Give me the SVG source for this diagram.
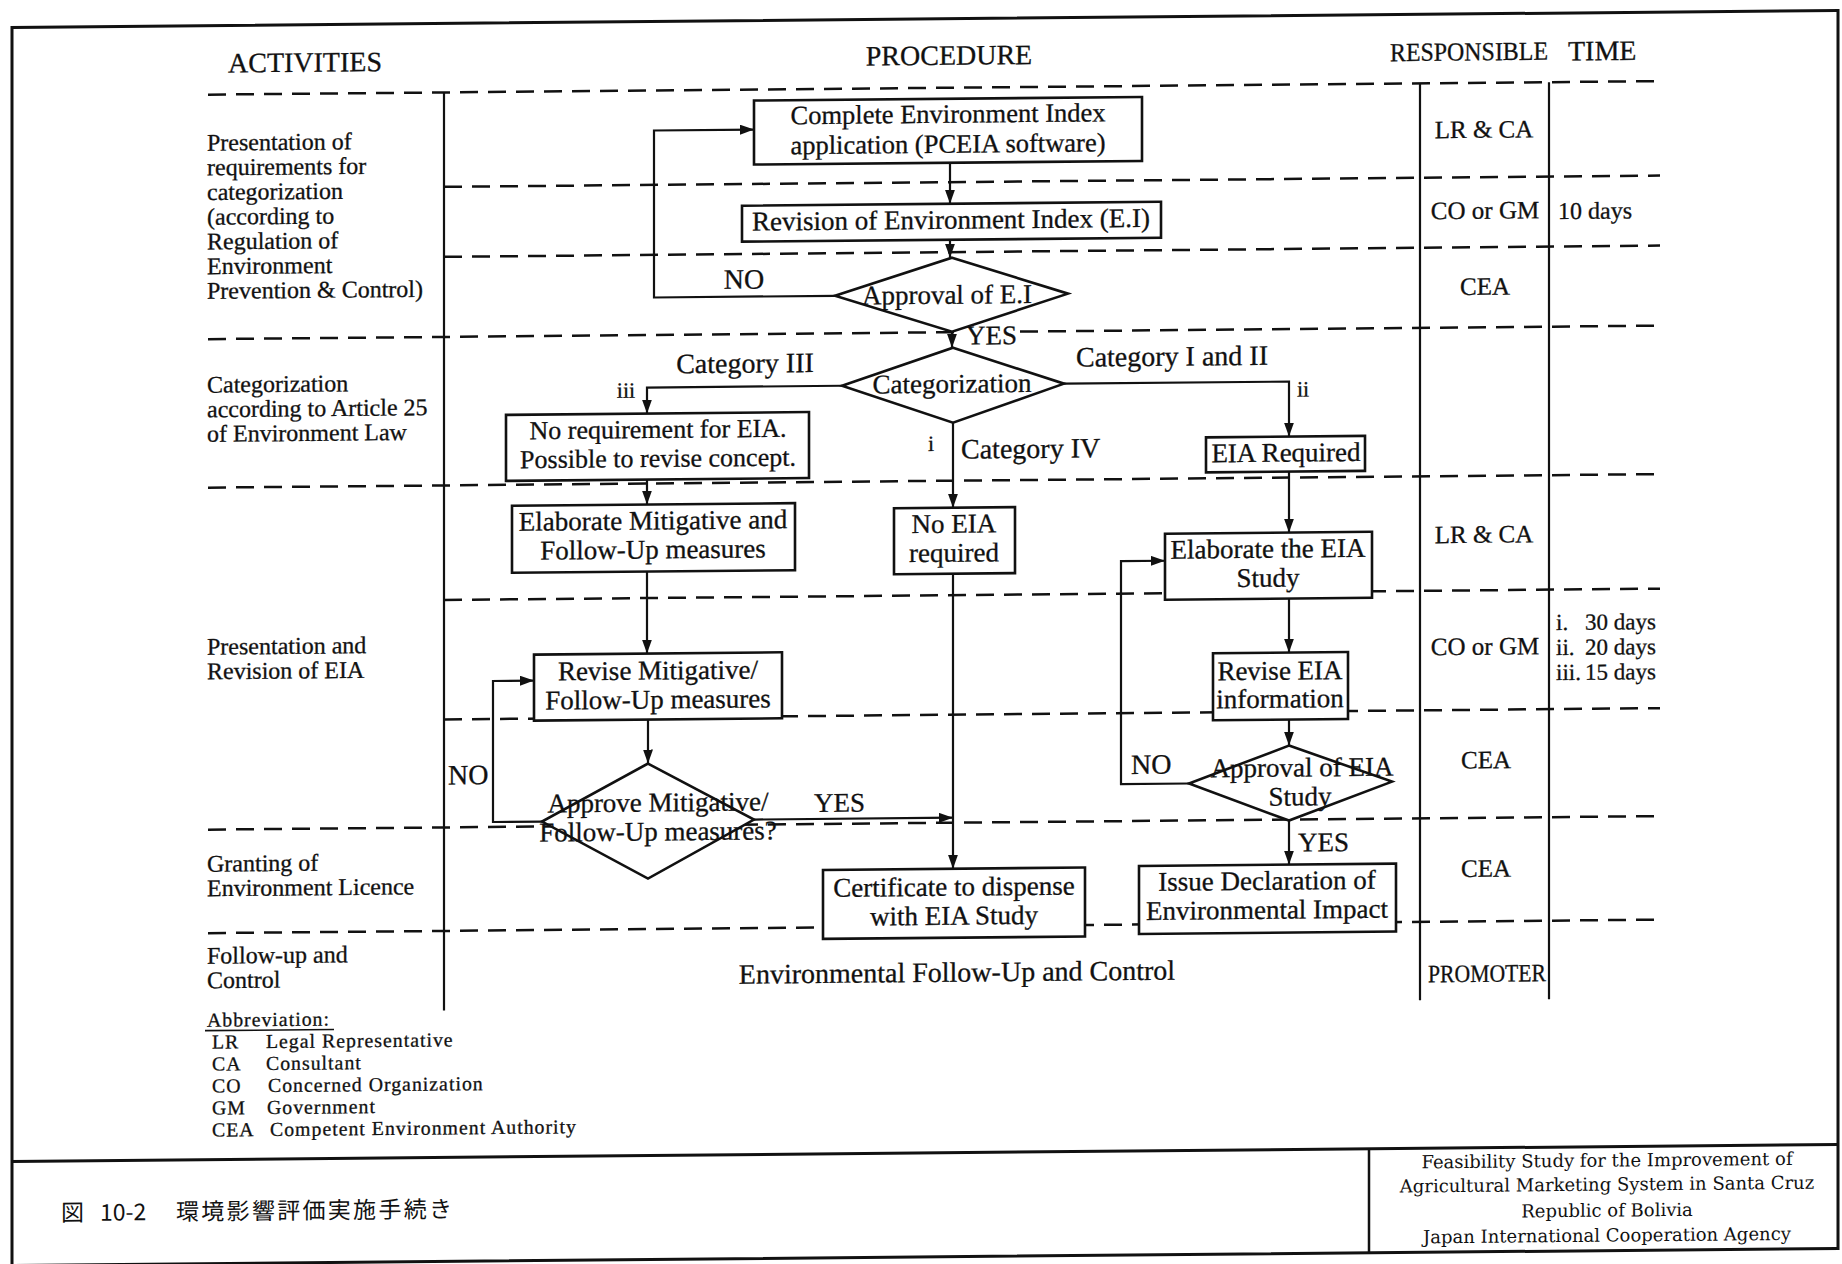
<svg xmlns="http://www.w3.org/2000/svg" width="1842" height="1264" viewBox="0 0 1842 1264">
<style>
.dash{stroke:#111;stroke-width:2.5;stroke-dasharray:18 10;fill:none}
.ln{stroke:#111;stroke-width:2.2;fill:none}
.frame{stroke:#111;stroke-width:3;fill:none}
.box{fill:#fff;stroke:#111;stroke-width:2.6}
.t{font-family:"Liberation Serif","Times New Roman",serif;fill:#111;stroke:#111;stroke-width:0.3}
.h{font-size:28px}
.b{font-size:27px;text-anchor:middle}
.l{font-size:28px}
.a{font-size:24px}
.r{font-size:25px;text-anchor:middle}
.s{font-size:22px}
.ab{font-size:19.8px;letter-spacing:1px}
.tm{font-size:23px}
.m{text-anchor:middle}
.cjk{font-family:"Noto Sans CJK JP","Noto Sans CJK SC",sans-serif;font-size:23px;fill:#111}
.ft{font-family:"DejaVu Serif","Liberation Serif",serif;font-size:18px;text-anchor:middle;fill:#111}
</style>
<defs>
<marker id="arr" markerUnits="userSpaceOnUse" markerWidth="14" markerHeight="10" refX="14" refY="5" orient="auto">
<path d="M0,0 L14,5 L0,10 z" fill="#111"/>
</marker>
</defs>
<rect width="1842" height="1264" fill="#fff"/>
<g transform="translate(0 8.57) skewY(-0.533)">
<g id="frame">
<rect class="frame" x="12" y="19" width="1826" height="1238"/>
<line class="frame" x1="12" y1="1153" x2="1838" y2="1153"/>
<line class="ln" x1="1369" y1="1153" x2="1369" y2="1257" style="stroke-width:2.5"/>
</g>
<g id="grid">
<line class="dash" x1="208" y1="88" x2="1660" y2="88"/>
<line class="dash" x1="444" y1="182.4" x2="1660" y2="182.4"/>
<line class="dash" x1="444" y1="252.4" x2="1660" y2="252.4"/>
<line class="dash" x1="208" y1="332.5" x2="1660" y2="332.5"/>
<line class="dash" x1="208" y1="481" x2="1660" y2="481"/>
<line class="dash" x1="444" y1="595.5" x2="1660" y2="595.5"/>
<line class="dash" x1="444" y1="715" x2="1660" y2="715"/>
<line class="dash" x1="208" y1="823" x2="1660" y2="823"/>
<line class="dash" x1="208" y1="926.5" x2="1660" y2="926.5"/>
<line class="ln" x1="444" y1="88" x2="444" y2="1006"/>
<line class="ln" x1="1420" y1="88" x2="1420" y2="1005"/>
<line class="ln" x1="1549" y1="88" x2="1549" y2="1005"/>
</g>
<g id="headers">
<text class="t h m" x="305" y="66">ACTIVITIES</text>
<text class="t h m" x="949" y="65">PROCEDURE</text>
<text class="t" x="1390" y="65.5" style="font-size:26px" textLength="158" lengthAdjust="spacingAndGlyphs">RESPONSIBLE</text>
<text class="t h" x="1568" y="66.5">TIME</text>
</g>
<g id="activities" class="t a">
<g id="act-presentation-req">
<text x="207" y="144">Presentation of</text>
<text x="207" y="168.7">requirements for</text>
<text x="207" y="193.4">categorization</text>
<text x="207" y="218.1">(according to</text>
<text x="207" y="242.8">Regulation of</text>
<text x="207" y="267.5">Environment</text>
<text x="207" y="292.2">Prevention &amp; Control)</text>
</g>
<g id="act-categorization">
<text x="207" y="386">Categorization</text>
<text x="207" y="410.6">according to Article 25</text>
<text x="207" y="435.2">of Environment Law</text>
</g>
<g id="act-presentation-eia">
<text x="207" y="648">Presentation and</text>
<text x="207" y="672.6">Revision of EIA</text>
</g>
<g id="act-granting">
<text x="207" y="865">Granting of</text>
<text x="207" y="889.6">Environment Licence</text>
</g>
<g id="act-followup">
<text x="207" y="957">Follow-up and</text>
<text x="207" y="981.6">Control</text>
</g>
</g>
<g id="responsible" class="t r">
<text x="1484" y="143">LR &amp; CA</text>
<text x="1485" y="224">CO or GM</text>
<text x="1485" y="300">CEA</text>
<text x="1484" y="548">LR &amp; CA</text>
<text x="1485" y="660">CO or GM</text>
<text x="1486" y="773.5">CEA</text>
<text x="1486" y="882">CEA</text>
<text x="1428" y="987" textLength="118" lengthAdjust="spacingAndGlyphs" style="text-anchor:start">PROMOTER</text>
</g>
<g id="time" class="t tm">
<text x="1558" y="225" style="font-size:24px">10 days</text>
<text x="1556" y="636">i.</text><text x="1585" y="636">30 days</text>
<text x="1556" y="661">ii.</text><text x="1585" y="661">20 days</text>
<text x="1556" y="686">iii.</text><text x="1585" y="686">15 days</text>
</g>
<g id="connectors">
<line class="ln" x1="950" y1="163" x2="950" y2="204" marker-end="url(#arr)"/>
<line class="ln" x1="950" y1="240" x2="950" y2="258" marker-end="url(#arr)"/>
<polyline class="ln" points="835,295 654,295 654,128 754,128" marker-end="url(#arr)"/>
<line class="ln" x1="952" y1="332" x2="952" y2="348" marker-end="url(#arr)"/>
<polyline class="ln" points="842,385 647,385 647,411" marker-end="url(#arr)"/>
<line class="ln" x1="953" y1="423" x2="953" y2="508" marker-end="url(#arr)"/>
<polyline class="ln" points="1064,385 1289,385 1289,440" marker-end="url(#arr)"/>
<line class="ln" x1="647" y1="477" x2="647" y2="502" marker-end="url(#arr)"/>
<line class="ln" x1="1289" y1="475" x2="1289" y2="536" marker-end="url(#arr)"/>
<line class="ln" x1="647" y1="569" x2="647" y2="651" marker-end="url(#arr)"/>
<line class="ln" x1="1289" y1="602" x2="1289" y2="656" marker-end="url(#arr)"/>
<line class="ln" x1="648" y1="717" x2="648" y2="761" marker-end="url(#arr)"/>
<line class="ln" x1="1289" y1="723" x2="1289" y2="749" marker-end="url(#arr)"/>
<polyline class="ln" points="542,818 493,818 493,677 534,677" marker-end="url(#arr)"/>
<line class="ln" x1="754" y1="818" x2="953" y2="818" marker-end="url(#arr)"/>
<line class="ln" x1="953" y1="574" x2="953" y2="869" marker-end="url(#arr)"/>
<polyline class="ln" points="1189,786 1121,786 1121,563 1165,563" marker-end="url(#arr)"/>
<line class="ln" x1="1289" y1="824" x2="1289" y2="868" marker-end="url(#arr)"/>
<g class="t">
<text class="l m" x="744" y="287">NO</text>
<rect x="963" y="323" width="56" height="22" fill="#fff" stroke="none"/>
<text class="l" x="966" y="345" style="font-size:27px">YES</text>
<text class="l m" x="745" y="371">Category III</text>
<text class="s m" x="626" y="395">iii</text>
<text class="l" x="961" y="459">Category IV</text>
<text class="s m" x="931" y="451">i</text>
<text class="l m" x="1172" y="368">Category I and II</text>
<text class="s m" x="1303" y="400">ii</text>
<text class="l" x="448" y="780">NO</text>
<text class="l" x="814" y="811" style="font-size:27px">YES</text>
<text class="l" x="1131" y="776">NO</text>
<text class="l" x="1298" y="855" style="font-size:27px">YES</text>
</g>
</g>
<g id="n-complete-ei">
<rect class="box" x="754" y="99" width="388" height="64"/>
<text class="t b" x="948" y="123" style="font-size:26.5px">Complete Environment Index</text>
<text class="t b" x="948" y="153" style="font-size:26.5px">application (PCEIA software)</text>
</g>
<g id="n-revision-ei">
<rect class="box" x="742" y="204" width="419" height="36"/>
<text class="t b" x="951" y="229">Revision of Environment Index (E.I)</text>
</g>
<g id="d-approval-ei">
<polygon class="box" points="952,258 1068,295 952,332 835,295"/>
<text class="t b" x="947" y="304">Approval of E.I</text>
</g>
<g id="d-categorization">
<polygon class="box" points="953,348 1064,385 953,423 842,385"/>
<text class="t b" x="952" y="393">Categorization</text>
</g>
<g id="n-no-requirement">
<rect class="box" x="506" y="411" width="303" height="66"/>
<text class="t b" x="658" y="435.5" style="font-size:26px">No requirement for EIA.</text>
<text class="t b" x="658" y="464.5" style="font-size:26px">Possible to revise concept.</text>
</g>
<g id="n-eia-required">
<rect class="box" x="1206" y="440" width="159" height="35"/>
<text class="t b" x="1286" y="465">EIA Required</text>
</g>
<g id="n-elaborate-mitigative">
<rect class="box" x="512" y="502" width="283" height="67"/>
<text class="t b" x="653" y="527">Elaborate Mitigative and</text>
<text class="t b" x="653" y="556">Follow-Up measures</text>
</g>
<g id="n-no-eia">
<rect class="box" x="894" y="508" width="121" height="66"/>
<text class="t b" x="954" y="533">No EIA</text>
<text class="t b" x="954" y="562">required</text>
</g>
<g id="n-elaborate-eia">
<rect class="box" x="1165" y="536" width="207" height="66"/>
<text class="t b" x="1268" y="561">Elaborate the EIA</text>
<text class="t b" x="1268" y="590">Study</text>
</g>
<g id="n-revise-mitigative">
<rect class="box" x="534" y="651" width="248" height="66"/>
<text class="t b" x="658" y="677">Revise Mitigative/</text>
<text class="t b" x="658" y="706">Follow-Up measures</text>
</g>
<g id="n-revise-eia">
<rect class="box" x="1213" y="656" width="135" height="67"/>
<text class="t b" x="1280" y="683">Revise EIA</text>
<text class="t b" x="1280" y="711">information</text>
</g>
<g id="d-approval-eia">
<polygon class="box" points="1289,749 1392,786 1289,824 1189,786"/>
<text class="t b" x="1302" y="780">Approval of EIA</text>
<text class="t b" x="1300" y="809">Study</text>
</g>
<g id="d-approve-mitigative">
<polygon class="box" points="648,761 754,818 648,876 542,818"/>
<text class="t b" x="658" y="809">Approve Mitigative/</text>
<text class="t b" x="658" y="838">Follow-Up measures?</text>
</g>
<g id="n-certificate">
<rect class="box" x="823" y="869" width="262" height="69"/>
<text class="t b" x="954" y="896">Certificate to dispense</text>
<text class="t b" x="954" y="925">with EIA Study</text>
</g>
<g id="n-issue-declaration">
<rect class="box" x="1139" y="868" width="257" height="68"/>
<text class="t b" x="1267" y="893">Issue Declaration of</text>
<text class="t b" x="1267" y="922">Environmental Impact</text>
</g>
<g id="n-followup-control">
<text class="t" x="957" y="982" style="font-size:28px;text-anchor:middle">Environmental Follow-Up and Control</text>
</g>
<g id="abbreviations" class="t ab">
<text x="207" y="1020">Abbreviation:</text>
<line class="ln" x1="205" y1="1024" x2="334" y2="1024" style="stroke-width:1.6"/>
<text x="212" y="1042">LR</text><text x="266" y="1042">Legal Representative</text>
<text x="212" y="1064">CA</text><text x="266" y="1064">Consultant</text>
<text x="212" y="1086">CO</text><text x="268" y="1086">Concerned Organization</text>
<text x="212" y="1108">GM</text><text x="267" y="1108">Government</text>
<text x="212" y="1130">CEA</text><text x="270" y="1130">Competent Environment Authority</text>
</g>
<g id="footer">
<text class="cjk" x="61" y="1213">図</text>
<text class="cjk" x="100" y="1213">10-2</text>
<text class="cjk" x="176" y="1213" letter-spacing="2.3">環境影響評価実施手続き</text>
<text class="ft" x="1607" y="1173">Feasibility Study for the Improvement of</text>
<text class="ft" x="1607" y="1197">Agricultural Marketing System in Santa Cruz</text>
<text class="ft" x="1607" y="1223">Republic of Bolivia</text>
<text class="ft" x="1607" y="1248">Japan International Cooperation Agency</text>
</g>
</g>
</svg>
